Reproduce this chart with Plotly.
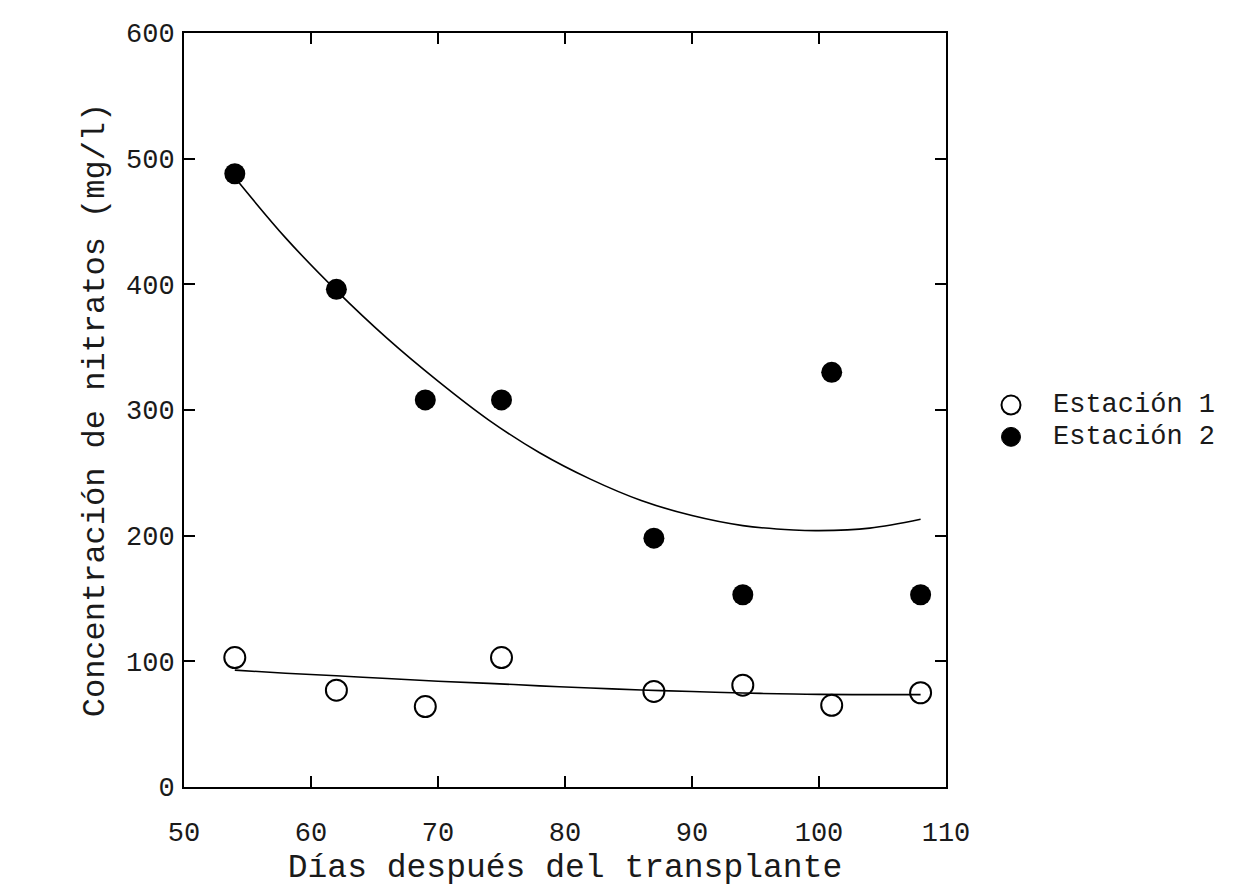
import plotly.graph_objects as go

days = [54, 62, 69, 75, 87, 94, 101, 108]
est1 = [103, 77, 64, 103, 76, 81, 65, 75]
est2 = [488, 396, 308, 308, 198, 153, 330, 153]

fit_x = [54, 58, 62, 66, 70, 74, 78, 82, 86, 90, 94, 98, 100, 104, 108]
fit1 = [93, 90.5, 88.5, 86.3, 84.2, 82.5, 80.5, 78.8, 77.2, 76, 74.8, 74, 73.7, 73.5, 73.5]
fit2 = [485, 437, 395, 357, 323, 292, 266, 245, 228, 216, 208, 204.5, 204, 206, 213]

legend_labels = ["Estación 1", "Estación 2"]

FONT = "Liberation Mono"
INK = "#1a1a1a"

L, R, T, B = 176, 296, 21, 109
W, H = 1234, 888
PW, PH = W - L - R, H - T - B

fig = go.Figure()
fig.add_trace(go.Scatter(x=fit_x, y=fit1, mode="lines", line=dict(color="black", width=1.6, shape="spline"),
                         showlegend=False, hoverinfo="skip"))
fig.add_trace(go.Scatter(x=fit_x, y=fit2, mode="lines", line=dict(color="black", width=1.6, shape="spline"),
                         showlegend=False, hoverinfo="skip"))
fig.add_trace(go.Scatter(x=days, y=est1, mode="markers", name=legend_labels[0], showlegend=False,
                         marker=dict(symbol="circle-open", size=21, color="black", line=dict(width=2, color="black"))))
fig.add_trace(go.Scatter(x=days, y=est2, mode="markers", name=legend_labels[1], showlegend=False,
                         marker=dict(symbol="circle", size=21, color="black")))

axis_common = dict(showgrid=False, zeroline=False, showline=True, linecolor="black", linewidth=2,
                   mirror="ticks", ticks="inside", ticklen=11, tickwidth=1.5, tickcolor="black",
                   tickfont=dict(family=FONT, size=27, color=INK))

fig.update_xaxes(range=[50, 110], tick0=50, dtick=10, ticklabelstandoff=20, **axis_common,
                 title=dict(text="Días después del transplante", font=dict(family=FONT, size=33, color=INK), standoff=5))
fig.update_yaxes(range=[0, 600], tick0=0, dtick=100, ticklabelstandoff=2, **axis_common,
                 title=dict(text="Concentración de nitratos (mg/l)", font=dict(family=FONT, size=32, color=INK), standoff=12))

# custom legend (symbols + labels) placed in paper coordinates
leg_px_x = 1010 - 7
leg_px_y = [402 - 7, 434 - 7]
r_px = 9.5
shapes = []
annotations = []
for i, lab in enumerate(legend_labels):
    cx = (leg_px_x - L) / PW
    cy = (H - B - leg_px_y[i]) / PH
    rx = r_px / PW
    ry = r_px / PH
    if i == 0:
        shapes.append(dict(type="circle", xref="paper", yref="paper", x0=cx - rx, x1=cx + rx, y0=cy - ry, y1=cy + ry,
                           line=dict(color="black", width=2), fillcolor="white"))
    else:
        shapes.append(dict(type="circle", xref="paper", yref="paper", x0=cx - rx, x1=cx + rx, y0=cy - ry, y1=cy + ry,
                           line=dict(color="black", width=1), fillcolor="black"))
    annotations.append(dict(text=lab, xref="paper", yref="paper", x=(leg_px_x + 40 - L) / PW, y=cy,
                            xanchor="left", yanchor="middle", showarrow=False,
                            font=dict(family=FONT, size=27, color=INK)))

fig.update_layout(
    width=W, height=H,
    margin=dict(l=L, r=R, t=T, b=B),
    paper_bgcolor="white", plot_bgcolor="white",
    showlegend=False,
    shapes=shapes, annotations=annotations,
)

fig.write_html("out.html")
